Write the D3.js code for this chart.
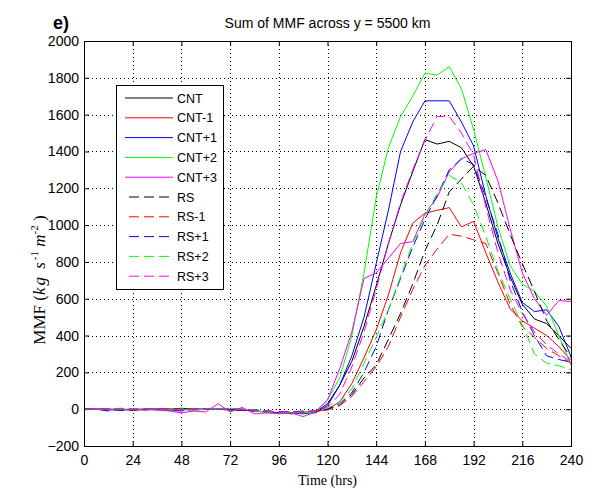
<!DOCTYPE html>
<html>
<head>
<meta charset="utf-8">
<script src="https://cdn.jsdelivr.net/npm/d3@7"></script>
<style>
body { margin: 0; background: #fff; }
text { font-family: "Liberation Sans", Arial, sans-serif; }
</style>
</head>
<body>
<div id="chart"></div>
<script>
// time axis (hrs), 6-hourly output
var hours = [0,6,12,18,24,30,36,42,48,54,60,66,72,78,84,90,96,102,108,114,
             120,126,132,138,144,150,156,162,168,174,180,186,192,198,204,210,216,222,228,234,240];

// Sum of MMF (kg s-1 m-2)
var cnt   = [0,0,0,-5,0,-5,0,0,5,0,0,0,-5,-5,-10,-15,-20,-25,-20,-20,
             20,130,260,450,670,900,1110,1290,1465,1440,1455,1420,1320,1120,900,720,570,490,465,400,330];
var cntM1 = [0,0,0,0,-5,0,0,0,0,-5,0,0,0,-5,-10,-15,-20,-20,-15,-15,
             0,40,140,280,430,620,850,1010,1065,1080,1095,990,1020,850,690,545,480,440,400,340,265];
var cntP1 = [0,0,-5,0,-5,0,0,-5,-5,0,0,0,0,-5,-10,-15,-20,-20,-25,-15,
             30,130,290,500,790,1080,1400,1560,1675,1675,1675,1560,1430,1160,930,740,580,530,540,450,285];
var cntP2 = [0,0,0,0,0,0,-5,0,0,-5,0,0,5,0,-10,-15,-25,-20,-20,-15,
             50,170,400,740,1150,1420,1590,1700,1825,1815,1860,1740,1520,1260,990,780,680,640,560,400,240];
var cntP3 = [0,0,0,-5,0,0,-5,-10,-20,-10,-15,30,-15,10,-25,-20,-25,-20,-40,-15,
             50,220,420,710,740,820,900,910,1060,1150,1290,1360,1390,1410,1240,980,740,600,510,590,585];
var rs    = [0,0,0,-5,-5,0,0,0,0,0,0,0,0,-5,-5,-10,-15,-15,-15,-10,
             0,20,80,170,240,380,520,680,860,1000,1180,1250,1320,1270,1120,950,790,640,480,380,280];
var rsM1  = [0,0,0,0,-5,0,0,0,0,0,0,0,0,-5,-5,-10,-15,-15,-15,-10,
             -5,20,70,150,230,340,500,650,780,870,950,940,920,900,740,570,450,390,330,290,250];
var rsP1  = [0,0,-10,0,0,0,0,-5,-10,0,0,0,0,0,-5,-10,-15,-15,-10,-10,
             0,30,90,200,340,540,710,880,1030,1160,1300,1360,1330,1150,950,700,530,400,290,270,255];
var rsP2  = [0,0,0,0,0,0,0,-5,0,0,0,5,0,0,-5,-10,-15,-20,-15,-10,
             5,40,110,250,390,540,720,900,1050,1170,1270,1230,1110,940,750,600,460,300,250,235,215];
var rsP3  = [0,0,0,5,0,0,0,0,-5,0,0,0,0,0,-5,-10,-15,-15,-15,-10,
             10,80,230,420,650,900,1120,1300,1460,1590,1590,1500,1380,1100,850,650,520,420,350,300,260];

var names = ["CNT","CNT-1","CNT+1","CNT+2","CNT+3","RS","RS-1","RS+1","RS+2","RS+3"];
var colors = ["#000000","#ff0000","#0000ff","#00ff00","#ff00ff","#000000","#ff0000","#0000ff","#00ff00","#ff00ff"];
var allValues = [cnt, cntM1, cntP1, cntP2, cntP3, rs, rsM1, rsP1, rsP2, rsP3];

var xTicks = [0,24,48,72,96,120,144,168,192,216,240];
var yTicks = [-200,0,200,400,600,800,1000,1200,1400,1600,1800,2000];

var width = 598, height = 491;
var axL = 84, axR = 571, axT = 41, axB = 446;

var x = d3.scaleLinear().domain([0, 240]).range([axL, axR]);
var y = d3.scaleLinear().domain([-200, 2000]).range([axB, axT]);

var svg = d3.select("#chart").append("svg")
    .attr("width", width)
    .attr("height", height);

svg.append("rect").attr("width", width).attr("height", height).attr("fill", "#fff");

// dotted grid
var grid = svg.append("g").attr("stroke", "#000").attr("stroke-width", 1)
    .attr("stroke-dasharray", "1,3");
grid.selectAll("line.gx")
    .data(xTicks.slice(1, -1))
    .enter().append("line")
    .attr("x1", d => Math.round(x(d)) + 0.5).attr("x2", d => Math.round(x(d)) + 0.5)
    .attr("y1", axT).attr("y2", axB);
grid.selectAll("line.gy")
    .data(yTicks.slice(1, -1))
    .enter().append("line")
    .attr("y1", d => Math.round(y(d)) + 0.5).attr("y2", d => Math.round(y(d)) + 0.5)
    .attr("x1", axL).attr("x2", axR);

// axes, ticks pointing inwards like matlab
svg.append("g")
    .attr("transform", "translate(0," + axB + ")")
    .call(d3.axisBottom(x).tickValues(xTicks).tickSize(-5).tickPadding(9).tickFormat(d3.format("d")));
svg.append("g")
    .attr("transform", "translate(" + axL + ",0)")
    .call(d3.axisLeft(y).tickValues(yTicks).tickSize(-5).tickPadding(5).tickFormat(d3.format("d")));
svg.append("g")
    .attr("transform", "translate(0," + axT + ")")
    .call(d3.axisTop(x).tickValues(xTicks).tickSize(-5).tickFormat(""));
svg.append("g")
    .attr("transform", "translate(" + axR + ",0)")
    .call(d3.axisRight(y).tickValues(yTicks).tickSize(-5).tickFormat(""));

svg.selectAll(".domain").remove();
svg.selectAll(".tick line").attr("stroke", "#000");
svg.selectAll(".tick text")
    .attr("fill", "#000")
    .style("font-family", "'Liberation Sans', Arial, sans-serif")
    .style("font-size", "14px");

// series lines
var line = d3.line()
    .x((d, i) => x(hours[i]))
    .y(d => y(d));

var lines = svg.append("g").attr("fill", "none");
allValues.forEach(function(vals, k) {
  lines.append("path")
    .datum(vals)
    .attr("d", line)
    .attr("stroke", colors[k])
    .attr("stroke-width", 1)
    .attr("stroke-dasharray", k >= 5 ? "10,5" : null);
});

// box
svg.append("rect")
    .attr("x", axL + 0.5).attr("y", axT + 0.5)
    .attr("width", axR - axL).attr("height", axB - axT)
    .attr("fill", "none").attr("stroke", "#000").attr("stroke-width", 1);

// legend
var legend = svg.append("g");
legend.append("rect")
    .attr("x", 116.5).attr("y", 85.5).attr("width", 107).attr("height", 204)
    .attr("fill", "#fff").attr("stroke", "#000");
names.forEach(function(nm, k) {
  var cy = 98 + k * 19.8;
  legend.append("line")
    .attr("x1", k >= 5 ? 129 : 125).attr("x2", 173)
    .attr("y1", cy).attr("y2", cy)
    .attr("stroke", colors[k])
    .attr("stroke-width", 1)
    .attr("stroke-dasharray", k >= 5 ? "10,5" : null);
  legend.append("text")
    .attr("x", 177).attr("y", cy + 4.5)
    .style("font-size", "12.5px")
    .text(nm);
});

// title and labels
svg.append("text")
    .attr("x", (axL + axR) / 2).attr("y", 28)
    .attr("text-anchor", "middle")
    .style("font-size", "14px")
    .text("Sum of MMF across y = 5500 km");

svg.append("text")
    .attr("x", 53).attr("y", 29)
    .style("font-size", "18px").style("font-weight", "bold")
    .text("e)");

svg.append("text")
    .attr("x", (axL + axR) / 2).attr("y", 485)
    .attr("text-anchor", "middle")
    .style("font-family", "'Liberation Serif', 'Times New Roman', serif")
    .style("font-size", "14px")
    .text("Time (hrs)");

// matlab tex label: spaced out italic units
var yl = svg.append("text")
    .attr("transform", "translate(45," + 280 + ") rotate(-90)")
    .attr("text-anchor", "middle")
    .style("font-family", "'Liberation Serif', 'Times New Roman', serif")
    .style("font-size", "17px");
yl.append("tspan").text("MMF  (");
yl.append("tspan").style("font-style", "italic").attr("letter-spacing", "2px").text("kg  s");
yl.append("tspan").attr("dy", -7).style("font-size", "11px").text("-1");
yl.append("tspan").attr("dy", 7).style("font-style", "italic").text("  m");
yl.append("tspan").attr("dy", -7).style("font-size", "11px").text("-2");
yl.append("tspan").attr("dy", 7).text(" )");
</script>
</body>
</html>
